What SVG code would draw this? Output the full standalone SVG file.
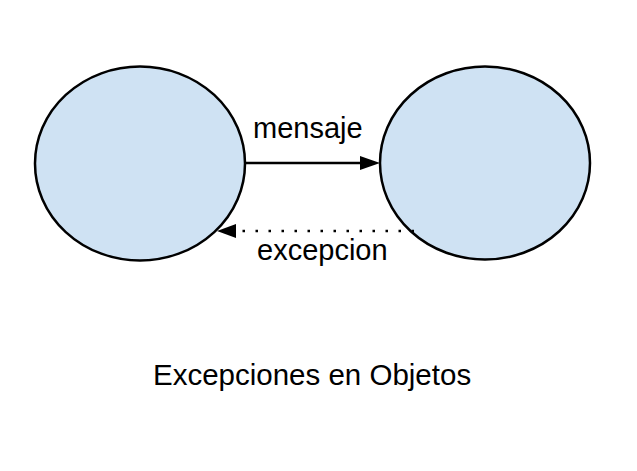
<svg xmlns="http://www.w3.org/2000/svg" width="637" height="471" viewBox="0 0 637 471">
<style>
.node{fill:#cfe2f3;stroke:#000;stroke-width:2.5}
.lbl{font-family:"Liberation Sans",Arial,sans-serif;font-size:29px;fill:#000}
.edge{stroke:#000;stroke-width:2.5;fill:none}
</style>
<rect width="637" height="471" fill="#fff"/>
<g id="nodeA"><ellipse class="node" cx="140" cy="163.5" rx="105" ry="97"/></g>
<g id="nodeB"><ellipse class="node" cx="485" cy="163" rx="105" ry="96.5"/></g>
<g id="connectors">
<line class="edge" x1="246" y1="163" x2="362" y2="163"/>
<path d="M360,156 L380,163 L360,170 Z" fill="#000"/>
<line class="edge" x1="414" y1="231" x2="237" y2="231" stroke-dasharray="2.5 10.5"/>
<path d="M236,224 L217,231 L236,238 Z" fill="#000"/>
</g>
<text class="lbl" x="253" y="138">mensaje</text>
<text class="lbl" x="257" y="260">excepcion</text>
<text class="lbl" x="153" y="385" style="font-size:29.5px">Excepciones en Objetos</text>
</svg>
